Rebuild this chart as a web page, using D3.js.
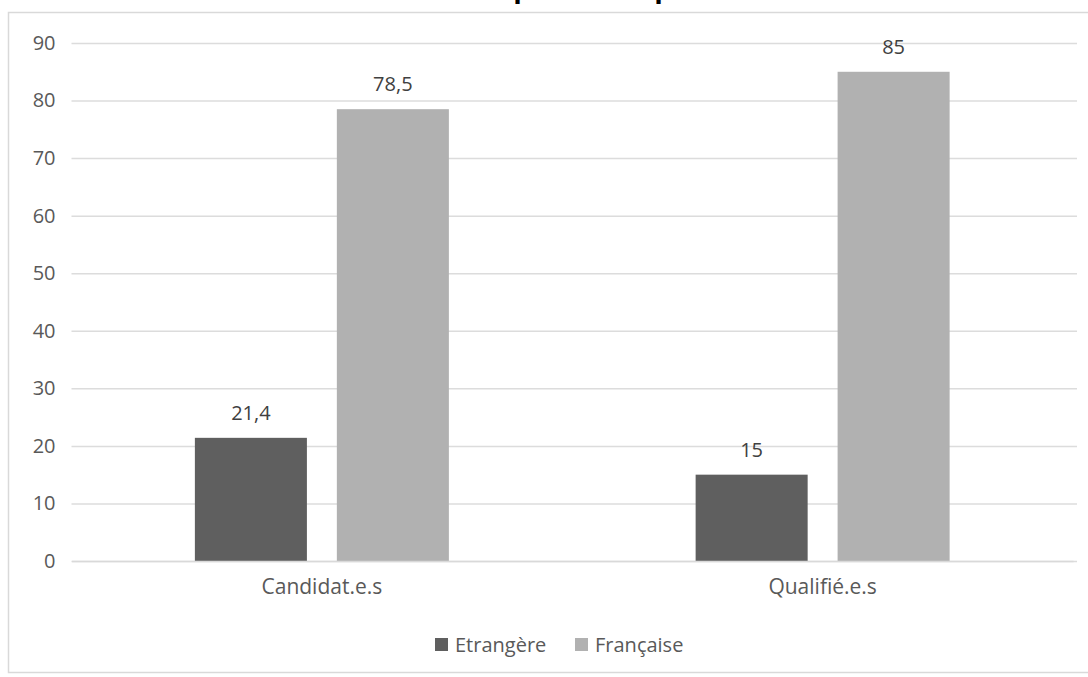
<!DOCTYPE html>
<html>
<head>
<meta charset="utf-8">
<script src="https://cdn.jsdelivr.net/npm/d3@7"></script>
<style>
  html, body { margin: 0; padding: 0; background: #fff; }
  svg { display: block; }
  text { font-family: "Open Sans", "Segoe UI", sans-serif; }
</style>
</head>
<body>
<svg id="chart" width="1088" height="677"></svg>
<script>
const categories = ["Candidat.e.s", "Qualifié.e.s"];
const seriesNames = ["Etrangère", "Française"];
const etrangere = [21.4, 15];
const francaise = [78.5, 85];
const yTicks = [0, 10, 20, 30, 40, 50, 60, 70, 80, 90];
const seriesColors = ["#5f5f5f", "#b1b1b1"];

const rows = categories.map((c, i) => ({
  category: c,
  values: [
    { series: seriesNames[0], value: etrangere[i] },
    { series: seriesNames[1], value: francaise[i] }
  ]
}));

const W = 1088, H = 677;
const plot = { left: 71.5, right: 1073, top: 43, bottom: 561 };
const svg = d3.select("#chart");
const fmt = v => String(v).replace(".", ",");

// Chart frame
svg.append("rect")
  .attr("x", 8.5).attr("y", 12.5)
  .attr("width", W + 10).attr("height", 660)
  .attr("fill", "#fff").attr("stroke", "#d9d9d9").attr("stroke-width", 1.5);

// Title, sitting above the frame (only its descenders reach the page)
const title = svg.append("g").attr("font-weight", "bold").attr("font-size", 28).attr("fill", "#000");
[522, 663].forEach(x => title.append("text").attr("x", x).attr("y", -3).attr("text-anchor", "middle").text("p"));

const y = d3.scaleLinear().domain([0, 90]).range([plot.bottom, plot.top]);
const x0 = d3.scaleBand().domain(categories).range([plot.left, plot.right]).padding(0);
const x1 = d3.scaleBand().domain(seriesNames).range([0, x0.bandwidth()])
  .paddingInner(0.211).paddingOuter(0.869);
const color = d3.scaleOrdinal().domain(seriesNames).range(seriesColors);

// Gridlines and y labels
const yAxis = d3.axisLeft(y).tickValues(yTicks).tickSize(-(plot.right - plot.left + 4)).tickPadding(16);
const gy = svg.append("g").attr("transform", `translate(${plot.left},0)`).call(yAxis);
gy.select(".domain").remove();
gy.selectAll(".tick line").attr("stroke", "#dcdcdc").attr("stroke-width", 1.5);
gy.selectAll(".tick text").attr("fill", "#595959").attr("font-size", 20)
  .attr("font-family", "Open Sans, sans-serif");

// Bars
const groups = svg.append("g").selectAll("g").data(rows).join("g")
  .attr("transform", d => `translate(${x0(d.category)},0)`);
groups.selectAll("rect").data(d => d.values).join("rect")
  .attr("x", d => x1(d.series))
  .attr("y", d => y(d.value))
  .attr("width", x1.bandwidth())
  .attr("height", d => y(0) - y(d.value))
  .attr("fill", d => color(d.series));

// Value labels
groups.selectAll("text.val").data(d => d.values).join("text")
  .attr("class", "val")
  .attr("x", d => x1(d.series) + x1.bandwidth() / 2)
  .attr("y", d => y(d.value) - 18)
  .attr("text-anchor", "middle")
  .attr("font-size", 20).attr("fill", "#404040")
  .text(d => fmt(d.value));

// Category axis
const xAxis = d3.axisBottom(x0).tickSize(0).tickPadding(18);
const gx = svg.append("g").attr("transform", `translate(0,${plot.bottom})`).call(xAxis);
gx.select(".domain").attr("stroke", "#d9d9d9").attr("stroke-width", 1.5);
gx.selectAll(".tick text").attr("fill", "#595959").attr("font-size", 21)
  .attr("font-family", "Open Sans, sans-serif");

// Legend
const legendItems = [{ name: seriesNames[0], x: 435 }, { name: seriesNames[1], x: 575 }];
const legend = svg.append("g").selectAll("g").data(legendItems).join("g")
  .attr("transform", d => `translate(${d.x},638)`);
legend.append("rect").attr("width", 13).attr("height", 13).attr("fill", d => color(d.name));
legend.append("text").attr("x", 20).attr("y", 14)
  .attr("font-size", 20).attr("fill", "#595959").text(d => d.name);
</script>
</body>
</html>
